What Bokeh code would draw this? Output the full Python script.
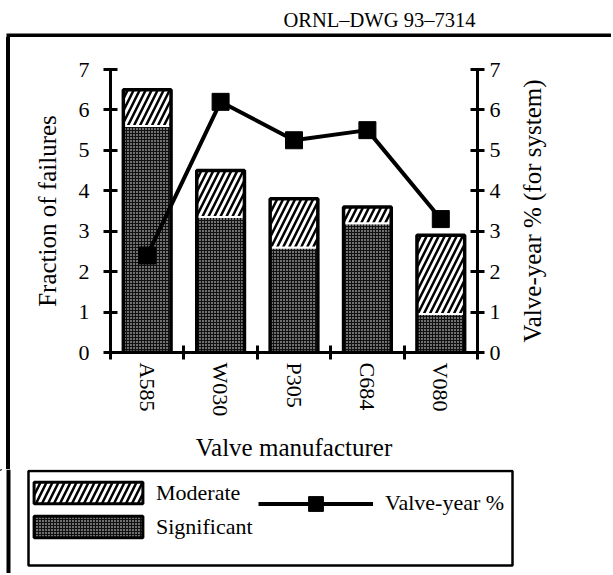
import math
from bokeh.plotting import figure
from bokeh.layouts import column, row
from bokeh.models import (Range1d, FactorRange, LinearAxis, CategoricalAxis, FixedTicker,
                          Label, BoxAnnotation, Legend, LegendItem, ColumnDataSource, Spacer)
from bokeh.transform import stack
from bokeh.embed import file_html
from bokeh.resources import INLINE

# ---- data ----
categories = ["A585", "W030", "P305", "C684", "V080"]
significant = [5.6, 3.35, 2.6, 3.2, 0.95]
moderate = [0.9, 1.15, 1.2, 0.4, 1.95]
valve_year_pct = [2.4, 6.2, 5.25, 5.5, 3.3]
y_ticks = [0, 1, 2, 3, 4, 5, 6, 7]
boundary_ticks = [0, 1, 2, 3, 4, 5]   # category boundaries (synthetic coordinates)

FONT = "Liberation Serif"

SIG_STYLE = dict(fill_color="#111111", hatch_pattern="dot", hatch_color="white",
                 hatch_scale=3, hatch_weight=0.6)
MOD_STYLE = dict(fill_color="white", hatch_pattern="/", hatch_color="black",
                 hatch_scale=12, hatch_weight=2.5)


def aux_fig(w, h):
    """Helper figure whose frame fills the canvas; data units = pixels (y down)."""
    f = figure(width=w, height=h, x_range=Range1d(0, w), y_range=Range1d(h, 0),
               x_axis_type=None, y_axis_type=None, output_backend="svg",
               toolbar_location=None, min_border=0)
    f.min_border_left = f.min_border_right = f.min_border_top = f.min_border_bottom = 0
    f.outline_line_color = None
    f.background_fill_color = "white"
    f.border_fill_color = "white"
    return f


def solid(f, l, r, t, b):
    f.add_layout(BoxAnnotation(left=l, right=r, top=t, bottom=b, fill_color="black",
                               fill_alpha=1, line_color=None))


# ---- title strip with the top frame line ----
tfig = aux_fig(611, 37)
tfig.add_layout(Label(x=283, y=19, text="ORNL–DWG 93–7314", text_font=FONT,
                      text_font_size="20.5px", text_baseline="middle", text_color="black"))
solid(tfig, 6, 611, 33, 37)

# ---- main chart ----
src = ColumnDataSource(dict(cat=categories, significant=significant,
                            moderate=moderate, vy=valve_year_pct))

p = figure(width=500, height=432, x_range=FactorRange(*categories), y_range=Range1d(0, 7),
           x_axis_type=None, y_axis_type=None, output_backend="svg", toolbar_location=None,
           min_border_left=98, min_border_right=35, min_border_top=32, min_border_bottom=117)
p.extra_y_ranges = {"right": Range1d(0, 7)}
p.outline_line_color = None
p.background_fill_color = "white"
p.border_fill_color = "white"

BW = 0.65
sig = p.vbar(x="cat", bottom=0, top=stack("significant"), width=BW, source=src,
             line_color="white", line_width=2, **SIG_STYLE)
mod = p.vbar(x="cat", bottom=stack("significant"), top=stack("significant", "moderate"),
             width=BW, source=src, line_color="white", line_width=2, **MOD_STYLE)
outline = p.vbar(x="cat", bottom=0, top=stack("significant", "moderate"), width=BW,
                 source=src, fill_color=None, line_color="black", line_width=3.5)

ln = p.line(x="cat", y="vy", source=src, y_range_name="right", line_color="black", line_width=4)
mk = p.scatter(x="cat", y="vy", source=src, y_range_name="right", marker="square", size=17,
               fill_color="black", line_color="black")


def style(ax):
    ax.axis_line_width = 3
    ax.axis_line_color = "black"
    ax.major_tick_line_width = 3
    ax.major_tick_line_color = "black"
    ax.major_tick_in = 7
    ax.major_tick_out = 7
    ax.minor_tick_line_color = None
    ax.major_label_text_font = FONT
    ax.major_label_text_font_size = "22px"
    ax.major_label_text_color = "black"
    ax.axis_label_text_font = FONT
    ax.axis_label_text_font_size = "25px"
    ax.axis_label_text_font_style = "normal"
    ax.axis_label_text_color = "black"


left = LinearAxis(ticker=FixedTicker(ticks=y_ticks), axis_label="Fraction of failures")
style(left)
left.major_label_standoff = 14
left.axis_label_standoff = 15
p.add_layout(left, "left")

right = LinearAxis(y_range_name="right", ticker=FixedTicker(ticks=y_ticks))
style(right)
right.major_label_standoff = 5
p.add_layout(right, "right")

bnd = LinearAxis(ticker=FixedTicker(ticks=boundary_ticks))
style(bnd)
bnd.major_label_text_font_size = "1px"
bnd.major_label_text_color = None
bnd.major_label_standoff = 0
p.add_layout(bnd, "below")

cat_axis = CategoricalAxis(axis_label="Valve manufacturer")
style(cat_axis)
cat_axis.axis_line_color = None
cat_axis.major_tick_line_color = None
cat_axis.major_tick_in = 0
cat_axis.major_tick_out = 0
cat_axis.major_label_orientation = "vertical"
cat_axis.major_label_standoff = 3
cat_axis.axis_label_standoff = 15
p.add_layout(cat_axis, "below")

# ---- right-hand axis title (reads bottom to top), frame-aligned strip ----
rfig = figure(width=40, height=432, x_range=Range1d(0, 1), y_range=Range1d(0, 1),
              x_axis_type=None, y_axis_type=None, output_backend="svg",
              toolbar_location=None, min_border=0)
rfig.outline_line_color = None
rfig.add_layout(Label(x=0.5, y=0.5, text="Valve-year % (for system)", angle=math.pi / 2,
                      text_align="center", text_baseline="middle", text_font=FONT,
                      text_font_size="25px", text_color="black"))

# ---- left frame line ----
left_line = row(Spacer(width=6, height=432),
                Spacer(width=4, height=432, styles={"background-color": "black"}),
                Spacer(width=2, height=432))

# ---- legend strip ----
gfig = aux_fig(605, 104)
solid(gfig, 6, 10, 0, 104)
gfig.add_layout(BoxAnnotation(left=28, right=512, top=1.5, bottom=96, fill_color=None,
                              line_color="black", line_alpha=1, line_width=2.5))
# legend-only glyphs, placed outside the visible range, carrying the chart styles
proxy = ColumnDataSource(dict(x=[-1000], y=[-1000], top=[-1000], bottom=[-1001]))
g_sig = gfig.vbar(x="x", top="top", bottom="bottom", width=1, source=proxy,
                  line_color="black", line_width=3, **SIG_STYLE)
g_mod = gfig.vbar(x="x", top="top", bottom="bottom", width=1, source=proxy,
                  line_color="black", line_width=3, **MOD_STYLE)
g_ln = gfig.line(x="x", y="y", source=proxy, line_color="black", line_width=4)
g_mk = gfig.scatter(x="x", y="y", source=proxy, marker="square", size=15,
                    fill_color="black", line_color="black")

leg1 = Legend(items=[LegendItem(label="Moderate", renderers=[g_mod]),
                     LegendItem(label="Significant", renderers=[g_sig])],
              location=(20, 33), orientation="vertical", glyph_width=136, glyph_height=27,
              label_height=27, spacing=7, padding=0, margin=0, border_line_color=None,
              background_fill_alpha=0, label_text_font=FONT, label_text_font_size="22px",
              label_text_color="black", label_standoff=0)
leg2 = Legend(items=[LegendItem(label="Valve-year %", renderers=[g_ln, g_mk])],
              location=(258, 51.5), glyph_width=115, glyph_height=37, label_height=37,
              padding=0, margin=0, border_line_color=None, background_fill_alpha=0,
              label_text_font=FONT, label_text_font_size="22px", label_text_color="black",
              label_standoff=12)
gfig.add_layout(leg1)
gfig.add_layout(leg2)

page = column(tfig, row(left_line, p, rfig), gfig)
open("out.html", "w").write(file_html(page, INLINE))
